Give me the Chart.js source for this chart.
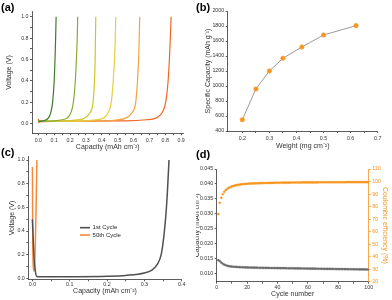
<!DOCTYPE html>
<html><head><meta charset="utf-8">
<script src="https://cdn.jsdelivr.net/npm/chart.js@4.4.1/dist/chart.umd.min.js"></script>
<style>
html,body{margin:0;padding:0;background:#fff;width:392px;height:300px;overflow:hidden;}
canvas{position:absolute;left:0;top:0;}
.lbl{position:absolute;font:bold 11px "Liberation Sans",Arial,sans-serif;line-height:11px;color:#000;}
</style></head><body>
<canvas id="ca" width="392" height="300"></canvas>
<canvas id="cb" width="392" height="300"></canvas>
<canvas id="cc" width="392" height="300"></canvas>
<canvas id="cd" width="392" height="300" style="clip-path:inset(0 0 0 196px)"></canvas>
<div class="lbl" style="left:1px;top:2px">(a)</div>
<div class="lbl" style="left:196px;top:2px">(b)</div>
<div class="lbl" style="left:1px;top:147px">(c)</div>
<div class="lbl" style="left:196px;top:149px">(d)</div>
<script>
// ---------- Panel (a) data ----------
const aVolt = [0.02, 0.025, 0.035, 0.05, 0.1, 0.2, 0.4, 0.6, 0.8, 1.0];
const aCap1 = [0, 0.03, 0.05, 0.062, 0.078, 0.09, 0.1, 0.105, 0.109, 0.112];
const aCap2 = [0, 0.1, 0.15, 0.18, 0.205, 0.221, 0.233, 0.24, 0.245, 0.248];
const aCap3 = [0, 0.18, 0.25, 0.29, 0.325, 0.345, 0.354, 0.358, 0.36, 0.362];
const aCap4 = [0, 0.28, 0.36, 0.41, 0.44, 0.46, 0.472, 0.48, 0.485, 0.488];
const aCap5 = [0, 0.4, 0.5, 0.55, 0.59, 0.614, 0.625, 0.632, 0.636, 0.639];
const aVolt6 = [0.045, 0.008, 0.018, 0.025, 0.035, 0.05, 0.1, 0.2, 0.4, 0.6, 0.8, 1.0];
const aCap6 = [0, 0.002, 0.01, 0.55, 0.68, 0.74, 0.78, 0.803, 0.818, 0.826, 0.832, 0.837];
const aColors = ['#3f7a2c', '#8aab3a', '#cfc52a', '#e6cf3e', '#f5a23e', '#f2661f'];
const aXTicks = [0,0.05,0.1,0.15,0.2,0.25,0.3,0.35,0.4,0.45,0.5,0.55,0.6,0.65,0.7,0.75,0.8,0.85,0.9];
const aXLabels = [0,0.1,0.2,0.3,0.4,0.5,0.6,0.7,0.8,0.9];
const aYTicks = [0,0.1,0.2,0.3,0.4,0.5,0.6,0.7,0.8,0.9,1.0];
const aYLabels = [0,0.2,0.4,0.6,0.8,1.0];

// ---------- Panel (b) data ----------
const bWeight = [0.2, 0.25, 0.3, 0.35, 0.42, 0.5, 0.62];
const bSpecCap = [550, 960, 1200, 1370, 1520, 1680, 1805];
const bXTicks = [0.2,0.25,0.3,0.35,0.4,0.45,0.5,0.55,0.6,0.65,0.7];
const bXLabels = [0.2,0.3,0.4,0.5,0.6,0.7];
const bYTicks = [400,600,800,1000,1200,1400,1600,1800,2000];

// ---------- Panel (c) data ----------
const cCap1 = [0, 0.004, 0.008, 0.012, 0.02, 0.1, 0.2, 0.25, 0.3, 0.32, 0.335, 0.345, 0.352, 0.358, 0.362, 0.366];
const cVolt1 = [0.5, 0.2, 0.06, 0.015, 0.013, 0.014, 0.018, 0.025, 0.045, 0.07, 0.12, 0.2, 0.35, 0.55, 0.75, 1.0];
const cCap50 = [0, 0.0005, 0.001, 0.002, 0.004, 0.006, 0.008, 0.01, 0.012];
const cVolt50 = [0.94, 0.6, 0.3, 0.12, 0.06, 0.12, 0.32, 0.62, 1.0];
const cSeries = ['1st Cycle', '50th Cycle'];
const cXTicks = [0,0.05,0.1,0.15,0.2,0.25,0.3,0.35,0.4];
const cXLabels = [0,0.1,0.2,0.3,0.4];
const cYTicks = [0,0.1,0.2,0.3,0.4,0.5,0.6,0.7,0.8,0.9,1.0];
const cYLabels = [0,0.2,0.4,0.6,0.8,1.0];

// ---------- Panel (d) data ----------
const dCycles = [];
for (let i = 1; i <= 100; i++) dCycles.push(i);
const dCapacity = [
 0.0145,0.0142,0.0137,0.0133,0.0130,0.0128,0.0126,0.0125,0.0124,0.01235,
 0.0123,0.01226,0.01223,0.0122,0.01217,0.01214,0.01212,0.0121,0.01208,0.01206,
 0.01204,0.01203,0.01202,0.012,0.01199,0.01198,0.01197,0.01196,0.01195,0.01194,
 0.01193,0.01192,0.01191,0.0119,0.01189,0.01188,0.01188,0.01187,0.01186,0.01185,
 0.01184,0.01183,0.01183,0.01182,0.01181,0.0118,0.01179,0.01179,0.01178,0.01177,
 0.01176,0.01175,0.01175,0.01174,0.01173,0.01172,0.01171,0.01171,0.0117,0.01169,
 0.01168,0.01167,0.01167,0.01166,0.01165,0.01164,0.01163,0.01163,0.01162,0.01161,
 0.0116,0.01159,0.01159,0.01158,0.01157,0.01156,0.01155,0.01155,0.01154,0.01153,
 0.01152,0.01151,0.01151,0.0115,0.01149,0.01148,0.01147,0.01147,0.01146,0.01145,
 0.01144,0.01143,0.01143,0.01142,0.01141,0.0114,0.01139,0.01139,0.01138,0.01137];
const dCE = [
 74,83,87,89.8,91.8,93.2,94.2,95,95.6,96.1,
 96.5,96.8,97.1,97.3,97.5,97.7,97.9,98,98.1,98.2,
 98.3,98.4,98.4,98.5,98.5,98.6,98.6,98.7,98.7,98.7,
 98.8,98.8,98.8,98.9,98.9,98.9,98.9,99,99,99,
 99,99,99.1,99.1,99.1,99.1,99.1,99.1,99.2,99.2,
 99.2,99.2,99.2,99.2,99.2,99.3,99.3,99.3,99.3,99.3,
 99.3,99.3,99.3,99.3,99.3,99.3,99.4,99.4,99.4,99.4,
 99.4,99.4,99.4,99.4,99.4,99.4,99.4,99.4,99.4,99.4,
 99.4,99.4,99.4,99.4,99.5,99.5,99.5,99.5,99.5,99.5,
 99.5,99.5,99.5,99.5,99.5,99.5,99.5,99.5,99.5,99.5];
const dXTicks = [0,10,20,30,40,50,60,70,80,90,100];
const dXLabels = [0,20,40,60,80,100];
const dYTicks = [0.01,0.015,0.02,0.025,0.03,0.035,0.04,0.045];
const dY2Ticks = [20,30,40,50,60,70,80,90,100,110];

// ---------- helpers ----------
const FONT = '"Liberation Sans", Arial, sans-serif';
Chart.defaults.font.family = FONT;
Chart.defaults.color = '#222';
const TICK = 5.3, TITLE = 7;
const pts = (xs, ys) => xs.map((x, i) => ({x: x, y: ys[i]}));
function axis(o) {
  const c = o.color || '#333';
  const major = o.labels || o.ticks;
  return {
    type: 'linear', position: o.position, min: o.min, max: o.max,
    afterBuildTicks: s => { s.ticks = o.ticks.map(v => ({value: v})); },
    afterFit: s => {
      if (o.horizontal) { s.height = o.size; s.paddingLeft = 0; s.paddingRight = 0; }
      else { s.width = o.size; s.paddingTop = 0; s.paddingBottom = 0; }
    },
    grid: {display: true, drawOnChartArea: false, drawTicks: true, tickLength: 2, color: c, tickColor: c, lineWidth: 0.8},
    border: {display: true, color: c, width: 0.8},
    ticks: {font: {size: TICK}, padding: o.tpad !== undefined ? o.tpad : (o.horizontal ? 2 : 1.5), color: c, autoSkip: false, maxRotation: 0, minRotation: 0,
      callback: v => major.some(m => Math.abs(m - v) < 1e-9) ? v.toFixed(o.dec) : ''},
    title: {display: true, text: o.title, font: {size: TITLE}, padding: 0, color: c}
  };
}
function layout(area, yTitleX, xTitleY, ry) {
  const lh = TITLE * 1.2;
  const left = yTitleX - lh / 2;
  const bottomEdge = xTitleY + lh / 2;
  const rightEdge = ry ? ry + lh / 2 : area.R;
  return {
    padding: {left: left, top: area.T, right: 392 - rightEdge, bottom: 300 - bottomEdge},
    yW: area.L - left, xH: bottomEdge - area.B, ryW: rightEdge - area.R
  };
}
const base = {responsive: false, animation: false, devicePixelRatio: 1,
  plugins: {legend: {display: false}, tooltip: {enabled: false}}};

// ---------- Chart (a) ----------
const A = {L: 32, R: 183.5, T: 11.7, B: 133.3};
const la = layout(A, 8.7, 147);
const aCaps = [aCap1, aCap2, aCap3, aCap4, aCap5];
const aSets = aCaps.map((cap, i) => ({data: pts(cap, aVolt), borderColor: aColors[i]}));
aSets.push({data: pts(aCap6, aVolt6), borderColor: aColors[5]});
new Chart(document.getElementById('ca'), {
  type: 'line',
  data: {datasets: aSets.map(d => Object.assign(d, {borderWidth: 1.2, pointRadius: 0, cubicInterpolationMode: 'monotone', fill: false}))},
  options: Object.assign({}, base, {
    layout: {padding: la.padding, autoPadding: false},
    scales: {
      x: axis({horizontal: true, position: 'bottom', min: -0.04, max: 0.915, ticks: aXTicks, labels: aXLabels, dec: 1, size: la.xH, title: 'Capacity (mAh cm\u207B\u00B2)'}),
      y: axis({position: 'left', min: -0.092, max: 1.047, ticks: aYTicks, labels: aYLabels, dec: 1, size: la.yW, title: 'Voltage (V)'})
    }
  })
});

// ---------- Chart (b) ----------
const Bp = {L: 227.7, R: 377.7, T: 11, B: 131};
const lb = layout(Bp, 207.7, 145.7);
new Chart(document.getElementById('cb'), {
  type: 'line',
  data: {datasets: [{data: pts(bWeight, bSpecCap), borderColor: '#8f8f8f', borderWidth: 0.9, tension: 0,
    pointRadius: 2.3, pointBackgroundColor: '#f7941d', pointBorderColor: '#f9a94d', pointBorderWidth: 0.6}]},
  options: Object.assign({}, base, {
    layout: {padding: lb.padding, autoPadding: false},
    scales: {
      x: axis({horizontal: true, position: 'bottom', min: 0.146, max: 0.7, ticks: bXTicks, labels: bXLabels, dec: 1, size: lb.xH, title: 'Weight (mg cm\u207B\u00B2)'}),
      y: axis({position: 'left', min: 400, max: 2000, ticks: bYTicks, dec: 0, size: lb.yW, title: 'Specific Capacity (mAh g\u207B\u00B9)'})
    }
  })
});

// ---------- Chart (c) ----------
const C = {L: 28.3, R: 181.7, T: 156.7, B: 279.3};
const lc = layout(C, 11.7, 291.5);
const inLegend = {
  id: 'inLegend',
  afterDraw(chart) {
    const {ctx, chartArea: ca} = chart;
    const w = ca.right - ca.left, h = ca.bottom - ca.top;
    chart.data.datasets.forEach((ds, i) => {
      const y = ca.top + h * (0.579 + i * 0.06);
      ctx.save();
      ctx.strokeStyle = ds.borderColor; ctx.lineWidth = 1.6;
      ctx.beginPath(); ctx.moveTo(ca.left + w * 0.337, y); ctx.lineTo(ca.left + w * 0.402, y); ctx.stroke();
      ctx.fillStyle = '#222'; ctx.font = '6px ' + FONT; ctx.textBaseline = 'middle';
      ctx.fillText(ds.label, ca.left + w * 0.419, y);
      ctx.restore();
    });
  }
};
new Chart(document.getElementById('cc'), {
  type: 'line',
  data: {datasets: [
    {label: cSeries[0], data: pts(cCap1, cVolt1), borderColor: '#505050'},
    {label: cSeries[1], data: pts(cCap50, cVolt50), borderColor: '#f7893a'}
  ].map(d => Object.assign(d, {borderWidth: 1.5, pointRadius: 0, cubicInterpolationMode: 'monotone', fill: false}))},
  options: Object.assign({}, base, {
    layout: {padding: lc.padding, autoPadding: false},
    scales: {
      x: axis({horizontal: true, position: 'bottom', min: -0.011, max: 0.4, ticks: cXTicks, labels: cXLabels, dec: 1, size: lc.xH, tpad: 0.5, title: 'Capacity (mAh cm\u207B\u00B2)'}),
      y: axis({position: 'left', min: -0.008, max: 1.028, ticks: cYTicks, labels: cYLabels, dec: 1, size: lc.yW, title: 'Voltage (V)'})
    }
  }),
  plugins: [inLegend]
});

// ---------- Chart (d) ----------
const D = {L: 216.7, R: 368.7, T: 169, B: 281.7};
const ld = layout(D, 197, 294.5, 385);
const ORANGE = '#f7941d';
new Chart(document.getElementById('cd'), {
  type: 'line',
  data: {datasets: [
    {data: pts(dCycles, dCapacity), yAxisID: 'y', borderColor: '#666', backgroundColor: '#666', pointBorderColor: '#777'},
    {data: pts(dCycles, dCE), yAxisID: 'y2', borderColor: ORANGE, backgroundColor: ORANGE, pointBorderColor: ORANGE}
  ].map(d => Object.assign(d, {showLine: false, pointRadius: 1.1, pointBorderWidth: 0.3, pointBackgroundColor: d.backgroundColor}))},
  options: Object.assign({}, base, {
    layout: {padding: ld.padding, autoPadding: false},
    scales: {
      x: axis({horizontal: true, position: 'bottom', min: 0, max: 100, ticks: dXTicks, labels: dXLabels, dec: 0, size: ld.xH, tpad: 1, title: 'Cycle number'}),
      y: axis({position: 'left', min: 0.0073, max: 0.045, ticks: dYTicks, dec: 3, size: ld.yW, title: 'Capacity (mAh cm\u207B\u00B2)'}),
      y2: axis({position: 'right', min: 20, max: 110, ticks: dY2Ticks, dec: 0, size: ld.ryW, color: ORANGE, title: 'Coulombic efficiency (%)'})
    }
  })
});
</script>
</body></html>
